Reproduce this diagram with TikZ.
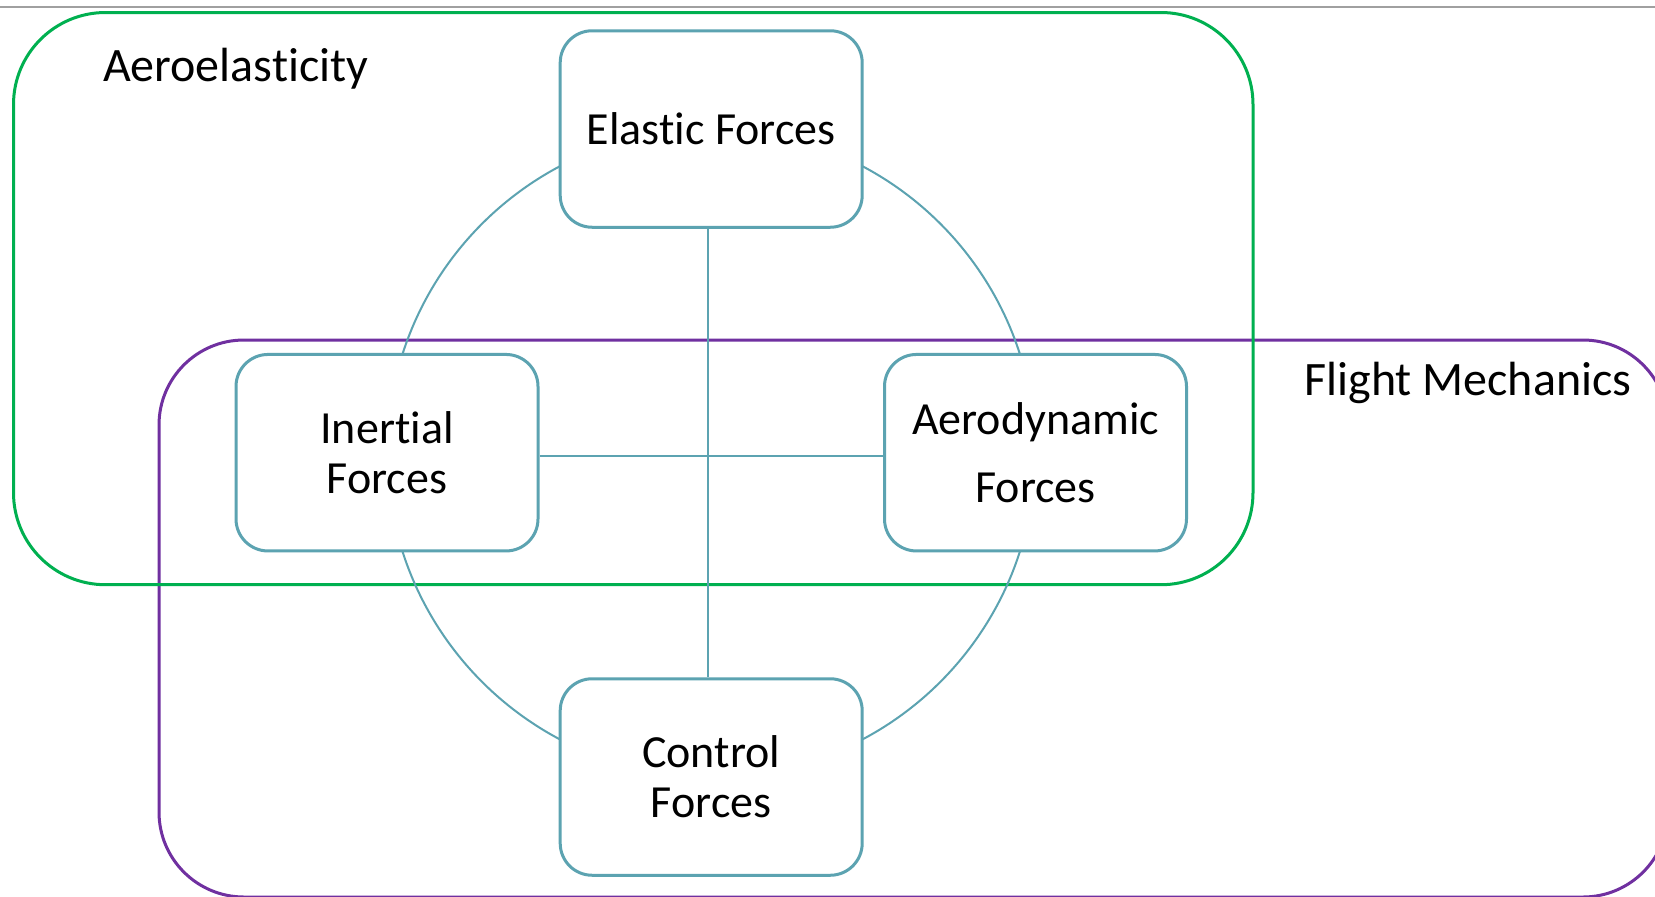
\documentclass[tikz,border=0pt]{standalone}
\usepackage{fontspec}
\setmainfont{Carlito}[Ligatures=NoCommon]
\definecolor{aegreen}{HTML}{00B050}
\definecolor{fmpurple}{HTML}{7030A0}
\definecolor{boxteal}{HTML}{5CA3B1}
\definecolor{topgray}{HTML}{A0A0A0}
\tikzset{
  forcebox/.style={draw=boxteal, line width=1.5pt, fill=white, rounded corners=16pt,
    minimum width=151pt, minimum height=98.25pt, inner sep=0pt, align=center,
    font=\fontsize{23}{25}\selectfont},
  link/.style={draw=boxteal, line width=1pt},
  regionlabel/.style={anchor=base west, inner sep=0pt, font=\fontsize{24}{26}\selectfont},
}
\begin{document}
\begin{tikzpicture}[x=0.5pt,y=-0.5pt]
\clip (0,0) rectangle (1655,896);
\fill[white] (0,0) rectangle (1655,896);
\draw[topgray, line width=0.8pt] (0,7) -- (1655,7);
% Flight mechanics region
\draw[fmpurple, line width=1.5pt, rounded corners=42.5pt] (159,340) rectangle (1668,897);
% Aeroelasticity region
\draw[aegreen, line width=1.5pt, rounded corners=46pt] (13.5,12.5) rectangle (1253,584.7);
\node[regionlabel] (aelab) at (102.6,81.5) {Aeroelasticity};
\node[regionlabel] (fmlab) at (1304,395) {Flight Mechanics};
% ring connecting the four forces
\coordinate (ringc) at (711.2,452.8);
\draw[link] (ringc) circle[radius=162pt];
% force boxes
\node[forcebox] (E) at (711.2,129) {Elastic Forces};
\node[forcebox] (I) at (387,452.7) {Inertial\\Forces};
\node[forcebox] (A) at (1035.5,452.7) {Aerodynamic\\[9pt]Forces};
\node[forcebox] (C) at (711.2,777) {Control\\Forces};
% cross connectors
\draw[link] ([xshift=-1.5pt]E.south) -- ([xshift=-1.5pt]C.north);
\draw[link] ([yshift=-1.5pt]I.east) -- ([yshift=-1.5pt]A.west);
\end{tikzpicture}
\end{document}
